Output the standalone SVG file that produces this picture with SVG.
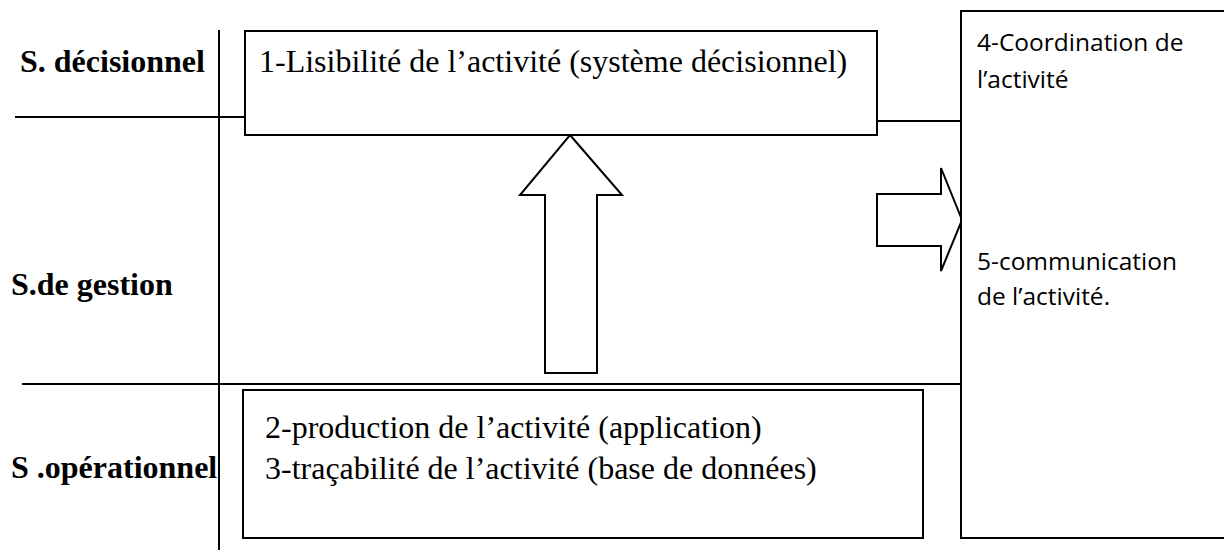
<svg xmlns="http://www.w3.org/2000/svg" width="1224" height="550" viewBox="0 0 1224 550">
  <style>
    .ln { stroke: #000; stroke-width: 2; fill: none; }
    .box { stroke: #000; stroke-width: 2; fill: #fff; }
    .arrow { stroke: #000; stroke-width: 2; fill: #fff; stroke-linejoin: miter; }
    .lvl { font-family: "Liberation Serif", "Times New Roman", serif; font-size: 32px; font-weight: bold; fill: #000; }
    .tx { font-family: "Liberation Serif", "Times New Roman", serif; font-size: 32px; fill: #000; }
    .sx { font-family: "Open Sans", "Noto Sans", sans-serif; font-size: 24.5px; fill: #000; }
  </style>
  <rect width="1224" height="550" fill="#fff"/>

  <!-- level grid -->
  <g id="grid">
    <line class="ln" x1="219" y1="30" x2="219" y2="550"/>
    <line class="ln" x1="15" y1="117" x2="245" y2="117"/>
    <line class="ln" x1="22" y1="384" x2="960" y2="384"/>
  </g>

  <!-- level labels -->
  <g id="levels">
    <text class="lvl" x="20" y="72">S. décisionnel</text>
    <text class="lvl" x="11" y="295">S.de gestion</text>
    <text class="lvl" x="11" y="478">S .opérationnel</text>
  </g>

  <!-- connectors -->
  <g id="connectors">
    <line class="ln" x1="877" y1="121" x2="960" y2="121"/>
    <polygon class="arrow" points="570,135 622,195 597,195 597,373 545,373 545,195 520,195"/>
    <polygon class="arrow" points="877,194 941,194 941,168 962,220 941,271 941,246 877,246"/>
  </g>

  <g id="node-decision">
    <rect class="box" x="245" y="31" width="632" height="104"/>
    <text class="tx" x="259" y="72">1-Lisibilité de l’activité (système décisionnel)</text>
  </g>

  <g id="node-operation">
    <rect class="box" x="243" y="390" width="680" height="148"/>
    <text class="tx" x="265" y="438">2-production de l’activité (application)</text>
    <text class="tx" x="265" y="479">3-traçabilité de l’activité (base de données)</text>
  </g>

  <g id="node-coordination">
    <rect class="box" x="961" y="11" width="275" height="527"/>
    <text class="sx" x="977" y="51">4-Coordination de</text>
    <text class="sx" x="977" y="88">l’activité</text>
    <text class="sx" x="977" y="270">5-communication</text>
    <text class="sx" x="977" y="305">de l’activité.</text>
  </g>
</svg>
